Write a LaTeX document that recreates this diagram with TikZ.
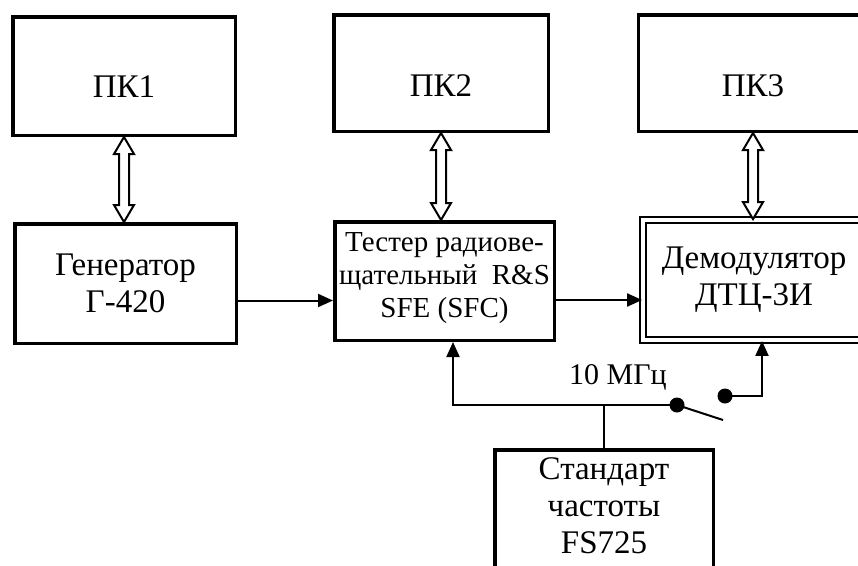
\documentclass[tikz,border=0pt]{standalone}
\usepackage{fontspec}
\setmainfont{Liberation Serif}
\usetikzlibrary{arrows.meta,calc}

\tikzset{
  blk/.style={draw, line width=3.5pt, rectangle, align=center, inner sep=2pt,
    font=\fontsize{33}{37}\selectfont},
  pcbox/.style={blk, text height=46pt, text depth=0pt},
  dblk/.style={blk, line width=1.8pt, double, double distance=3.5pt},
  link/.style={line width=2pt, -{Triangle[length=15pt,width=13pt]}},
  wire/.style={line width=2pt},
  twin/.style={line width=2pt, fill=white, line join=miter},
  dot/.style={circle, fill, inner sep=0pt, minimum size=15pt},
}

\begin{document}
\begin{tikzpicture}[x=1pt, y=-1pt]
    \clip (0,0) rectangle (858,565);
    \fill[white] (0,0) rectangle (858,565);

    \node[pcbox, text height=42pt, minimum width=222.5pt, minimum height=118.5pt] (pk1) at (124, 76) {ПК1};
    \node[pcbox, minimum width=214.5pt, minimum height=116.5pt] (pk2) at (441, 73) {ПК2};
    \node[pcbox, minimum width=229pt, minimum height=116.5pt] (pk3) at (753, 73) {ПК3};

    \node[blk, minimum width=221.5pt, minimum height=119.5pt] (gen) at (125.5, 283.5) {Генератор\\Г-420};
    \node[blk, minimum width=219.5pt, minimum height=118.5pt, text depth=12pt, font=\fontsize{29}{33}\selectfont] (tester) at (444.5, 281) {Тестер радиове-\\щательный~~R\&S\\SFE (SFC)};
    \node[dblk, minimum width=222pt, minimum height=120pt] (demod) at (754, 280) {Демодулятор\\ДТЦ-3И};

    \node[blk, anchor=north, minimum width=218.5pt, inner sep=8pt, text depth=30pt] (fs) at (604, 448) {Стандарт\\частоты\\FS725};

    \node[font=\fontsize{30}{37}\selectfont] (freq) at (618, 377) {10 МГц};

    % double arrows to the PCs
    \draw[twin] (pk1.south |- gen.north) -- ++(-10,-17) -- ++(5,0) -- ($(pk1.south)+(-5,17)$) -- ++(-5,0) -- (pk1.south) -- ++(10,17) -- ++(-5,0) -- ($(pk1.south |- gen.north)+(5,-17)$) -- ++(5,0) -- cycle;
    \draw[twin] (pk2.south |- tester.north) -- ++(-10,-17) -- ++(5,0) -- ($(pk2.south)+(-5,17)$) -- ++(-5,0) -- (pk2.south) -- ++(10,17) -- ++(-5,0) -- ($(pk2.south |- tester.north)+(5,-17)$) -- ++(5,0) -- cycle;
    \draw[twin] (pk3.south |- demod.north) -- ++(-10,-17) -- ++(5,0) -- ($(pk3.south)+(-5,17)$) -- ++(-5,0) -- (pk3.south) -- ++(10,17) -- ++(-5,0) -- ($(pk3.south |- demod.north)+(5,-17)$) -- ++(5,0) -- cycle;

    \draw[link] ([yshift=-17pt]gen.east) -- ([yshift=-17pt]gen.east -| tester.west);
    \draw[link] ([yshift=-19pt]tester.east) -- ([yshift=-19pt]tester.east -| demod.west);

    % 10 MHz reference and switch
    \coordinate (tap) at (604, 405);
    \coordinate (fbl) at (453, 405);
    \coordinate (fbr) at (762, 396);
    \coordinate (lever) at (723, 420);
    \node[dot] (sw1) at (677, 405) {};
    \node[dot] (sw2) at (725, 396) {};

    \draw[wire] (fs.north) -- (tap);
    \draw[link] (sw1.center) -- (fbl) -- (fbl |- tester.south);
    \draw[wire] (sw1.center) -- (lever);
    \draw[link] (sw2.center) -- (fbr) -- (fbr |- demod.south);
\end{tikzpicture}
\end{document}
